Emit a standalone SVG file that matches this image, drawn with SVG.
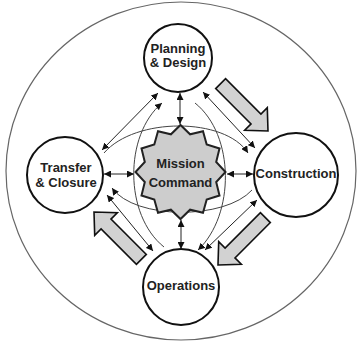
<svg xmlns="http://www.w3.org/2000/svg" width="359" height="343" viewBox="0 0 359 343">
  <defs>
    <marker id="ah" viewBox="0 0 10 10" refX="10" refY="5" markerWidth="7" markerHeight="7" markerUnits="userSpaceOnUse" orient="auto-start-reverse">
      <path d="M0,0 L10,5 L0,10 z" fill="#111"/>
    </marker>
    <polygon id="big" points="0,0 -17,-16 -17,-7 -67,-7 -67,7 -17,7 -17,16"/>
  </defs>
  <style>
    .node{fill:#fff;stroke:#111;stroke-width:2}
    .lbl{font-family:"Liberation Sans",Arial,sans-serif;font-weight:bold;font-size:13px;fill:#222;text-anchor:middle}
    .ln{fill:none;stroke:#222;stroke-width:1}
    .cv{fill:none;stroke:#444;stroke-width:1}
    .blk{fill:#d2d2d2;stroke:#111;stroke-width:1.6}
  </style>
  <rect width="359" height="343" fill="#fff"/>
  <ellipse cx="181" cy="171" rx="175" ry="169" fill="none" stroke="#666" stroke-width="1.2"/>

  <g id="connectors">
    <!-- hub spokes -->
    <line class="ln" x1="180" y1="93" x2="180" y2="124" marker-start="url(#ah)" marker-end="url(#ah)"/>
    <line class="ln" x1="181" y1="220" x2="181" y2="249" marker-start="url(#ah)" marker-end="url(#ah)"/>
    <line class="ln" x1="104" y1="174" x2="134" y2="174" marker-start="url(#ah)" marker-end="url(#ah)"/>
    <line class="ln" x1="227" y1="174" x2="253" y2="174" marker-start="url(#ah)" marker-end="url(#ah)"/>
    <!-- straight diagonals -->
    <line class="ln" x1="102" y1="150" x2="158" y2="93" marker-start="url(#ah)" marker-end="url(#ah)"/>
    <line class="ln" x1="203" y1="92" x2="255" y2="148" marker-start="url(#ah)" marker-end="url(#ah)"/>
    <line class="ln" x1="107" y1="195" x2="153" y2="251" marker-start="url(#ah)" marker-end="url(#ah)"/>
    <line class="ln" x1="205" y1="250" x2="257" y2="200" marker-start="url(#ah)" marker-end="url(#ah)"/>
    <!-- curved arcs -->
    <path class="cv" d="M164,247 C124,215 124,135 162,103" marker-end="url(#ah)"/>
    <path class="cv" d="M195,103 C235,135 235,215 198,250" marker-end="url(#ah)"/>
    <path class="cv" d="M104,153 C135,117 225,117 248,153" marker-end="url(#ah)"/>
    <path class="cv" d="M252,190 C225,220 135,220 112,188" marker-end="url(#ah)"/>
  </g>

  <g id="flow-arrows">
    <use href="#big" class="blk" transform="translate(268,131) rotate(45)"/>
    <use href="#big" class="blk" transform="translate(218,265) rotate(135)"/>
    <use href="#big" class="blk" transform="translate(94,212) rotate(225)"/>
  </g>

  <g id="mission-command">
    <polygon points="180.5,125 190.1,134.3 203,131.3 206.7,144.4 219.5,148.5 216.2,161.9 225.5,172 216.2,182.1 219.5,195.5 206.7,199.6 203,212.7 190.1,209.7 180.5,219 170.9,209.7 158,212.7 154.3,199.6 141.5,195.5 144.8,182.1 135.5,172 144.8,161.9 141.5,148.5 154.3,144.4 158,131.3 170.9,134.3" fill="#cdcdcd" stroke="#222" stroke-width="2"/>
    <text class="lbl" x="180.5" y="168">Mission</text>
    <text class="lbl" x="180.5" y="187">Command</text>
  </g>

  <g id="planning">
    <circle class="node" cx="178" cy="58" r="34"/>
    <text class="lbl" x="178" y="53">Planning</text>
    <text class="lbl" x="178" y="67">&amp; Design</text>
  </g>

  <g id="construction">
    <circle class="node" cx="296" cy="175" r="42"/>
    <text class="lbl" x="296" y="178">Construction</text>
  </g>

  <g id="operations">
    <circle class="node" cx="181" cy="287" r="38"/>
    <text class="lbl" x="181" y="290">Operations</text>
  </g>

  <g id="transfer">
    <circle class="node" cx="65" cy="175" r="38"/>
    <text class="lbl" x="66" y="172">Transfer</text>
    <text class="lbl" x="66" y="187">&amp; Closure</text>
  </g>
</svg>
